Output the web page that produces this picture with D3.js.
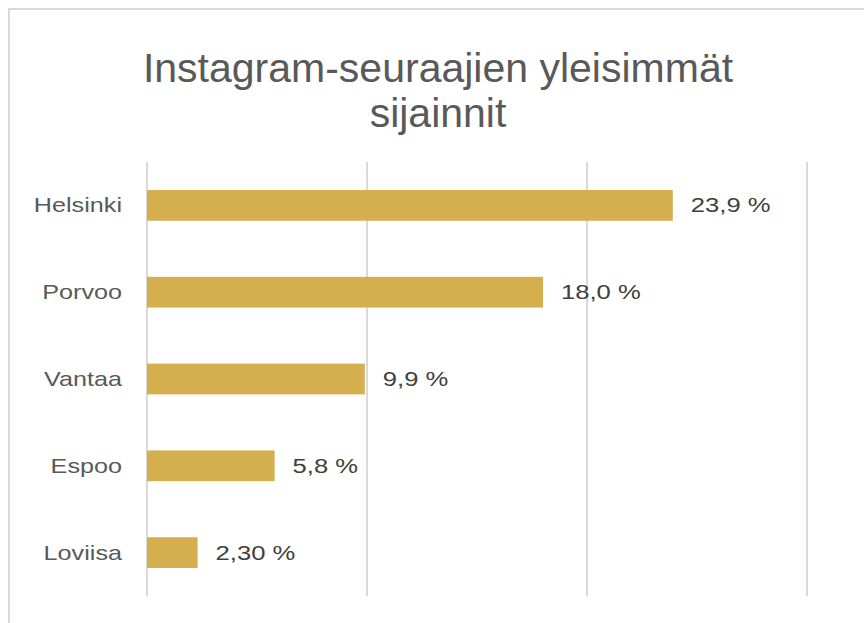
<!DOCTYPE html>
<html>
<head>
<meta charset="utf-8">
<script src="https://cdn.jsdelivr.net/npm/d3@7"></script>
<style>
  body { margin: 0; background: #fff; }
  svg { display: block; font-family: "Liberation Sans", Arial, sans-serif; }
</style>
</head>
<body>
<svg id="chart" width="864" height="623"></svg>
<script>
// Data
const cities = ["Helsinki", "Porvoo", "Vantaa", "Espoo", "Loviisa"];
const shares = [23.9, 18.0, 9.9, 5.8, 2.3];
const shareLabels = ["23,9 %", "18,0 %", "9,9 %", "5,8 %", "2,30 %"];
const gridTicks = [0, 10, 20, 30];
const titleLines = ["Instagram-seuraajien yleisimmät", "sijainnit"];

const svg = d3.select("#chart");

// chart frame
svg.append("rect")
    .attr("x", 9).attr("y", 9)
    .attr("width", 900).attr("height", 700)
    .attr("fill", "#fff")
    .attr("stroke", "#d9d9d9")
    .attr("stroke-width", 2);

const x = d3.scaleLinear().domain([0, 30]).range([147, 807]);
const y = d3.scaleBand()
    .domain(cities)
    .range([162, 596])
    .paddingInner(0.646)
    .paddingOuter(0.323);

// Title
svg.append("g")
    .selectAll("text")
    .data(titleLines)
    .join("text")
    .attr("x", 438)
    .attr("y", (d, i) => 82 + i * 45)
    .attr("text-anchor", "middle")
    .attr("fill", "#595959")
    .style("font-size", "41px")
    .text(d => d);

// gridlines
svg.append("g")
    .selectAll("line")
    .data(gridTicks)
    .join("line")
    .attr("x1", d => x(d)).attr("x2", d => x(d))
    .attr("y1", 162).attr("y2", 596)
    .attr("stroke", "#d9d9d9")
    .attr("stroke-width", 2);

// bars
svg.append("g")
    .selectAll("rect")
    .data(cities)
    .join("rect")
    .attr("x", x(0))
    .attr("y", d => y(d))
    .attr("width", (d, i) => x(shares[i]) - x(0))
    .attr("height", y.bandwidth())
    .attr("fill", "#d5ae4e");

// category labels (stretched a bit wider, like the original)
svg.append("g")
    .selectAll("text")
    .data(cities)
    .join("text")
    .attr("transform", d => `translate(122,${y(d) + y.bandwidth() / 2}) scale(1.26,1)`)
    .attr("dy", "0.35em")
    .attr("text-anchor", "end")
    .attr("fill", "#595959")
    .style("font-size", "20px")
    .text(d => d);

// value labels
svg.append("g")
    .selectAll("text")
    .data(cities)
    .join("text")
    .attr("transform", (d, i) => `translate(${x(shares[i]) + 18},${y(d) + y.bandwidth() / 2}) scale(1.28,1)`)
    .attr("dy", "0.35em")
    .attr("fill", "#404040")
    .style("font-size", "20px")
    .text((d, i) => shareLabels[i]);
</script>
</body>
</html>
